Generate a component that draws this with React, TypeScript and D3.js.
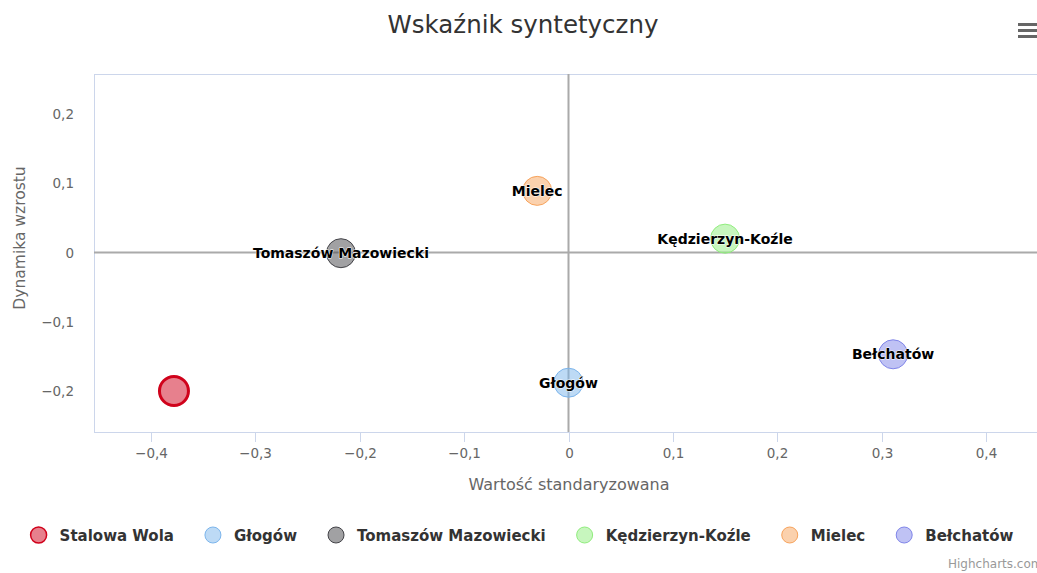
import React, { useEffect, useRef } from "react";
import * as d3 from "d3";

const cities = ["Stalowa Wola", "Głogów", "Tomaszów Mazowiecki", "Kędzierzyn-Koźle", "Mielec", "Bełchatów"];
const xValues = [-0.378, 0.0, -0.218, 0.15, -0.03, 0.311];
const yValues = [-0.2, -0.188, -0.001, 0.02, 0.089, -0.147];
const colors = ["#d0021b", "#7cb5ec", "#434348", "#90ed7d", "#f7a35c", "#8085e9"];
const strokeWidths = [3, 1, 1, 1, 1, 1];
const xTicks = [-0.4, -0.3, -0.2, -0.1, 0, 0.1, 0.2, 0.3, 0.4];
const yTicks = [-0.2, -0.1, 0, 0.1, 0.2];
const titleText = "Wskaźnik syntetyczny";
const xTitle = "Wartość standaryzowana";
const yTitle = "Dynamika wzrostu";

const W = 1037;
const H = 573;
const FONT = "'DejaVu Sans', 'Open Sans', sans-serif";

const locale = d3.formatLocale({ decimal: ",", thousands: " ", grouping: [3], currency: ["", " zł"], minus: "\u2212" });
const fmt = (v: number) => (Math.abs(v) < 1e-9 ? "0" : locale.format(".1f")(v));

export default function App() {
  const ref = useRef<SVGSVGElement | null>(null);

  useEffect(() => {
    const svg = d3.select(ref.current);
    svg.selectAll("*").remove();

    const plotL = 94, plotT = 74, plotB = 432, plotR = 1040;
    const x = d3.scaleLinear().domain([-0.4, 0.4]).range([151, 986]);
    const y = d3.scaleLinear().domain([-0.2, 0.2]).range([391, 114]);

    svg.append("rect").attr("width", W).attr("height", H).attr("fill", "#fff");

    // title
    svg.append("text").attr("x", 523).attr("y", 33).attr("text-anchor", "middle")
      .attr("font-family", FONT).attr("font-size", 24.5).attr("fill", "#333").text(titleText);

    // menu icon
    [0, 1, 2].forEach((i) => {
      svg.append("rect").attr("x", 1018).attr("y", 23 + i * 6).attr("width", 19).attr("height", 3)
        .attr("fill", "#666");
    });

    // plot border
    svg.append("rect").attr("x", plotL + 0.5).attr("y", plotT + 0.5).attr("width", plotR - plotL)
      .attr("height", plotB - plotT).attr("fill", "none").attr("stroke", "#ccd6eb").attr("stroke-width", 1);

    // x ticks
    const xt = svg.append("g");
    xTicks.forEach((t) => {
      const px = Math.round(x(t)) + 0.5;
      xt.append("line").attr("x1", px).attr("x2", px).attr("y1", plotB).attr("y2", plotB + 10)
        .attr("stroke", "#ccd6eb");
      xt.append("text").attr("x", px).attr("y", plotB + 26).attr("text-anchor", "middle")
        .attr("font-family", FONT).attr("font-size", 13.5).attr("fill", "#666").text(fmt(t));
    });
    yTicks.forEach((t) => {
      svg.append("text").attr("x", 74).attr("y", y(t) + 5).attr("text-anchor", "end")
        .attr("font-family", FONT).attr("font-size", 13.5).attr("fill", "#666").text(fmt(t));
    });

    // axis titles
    svg.append("text").attr("x", 569).attr("y", 490).attr("text-anchor", "middle")
      .attr("font-family", FONT).attr("font-size", 16).attr("fill", "#666").text(xTitle);
    svg.append("text").attr("transform", `translate(25,${238}) rotate(-90)`).attr("text-anchor", "middle")
      .attr("font-family", FONT).attr("font-size", 15.5).attr("fill", "#666").text(yTitle);

    // zero plot lines
    svg.append("line").attr("x1", plotL).attr("x2", plotR).attr("y1", y(0)).attr("y2", y(0))
      .attr("stroke", "#aaa").attr("stroke-width", 2);
    svg.append("line").attr("x1", x(0)).attr("x2", x(0)).attr("y1", plotT).attr("y2", plotB)
      .attr("stroke", "#aaa").attr("stroke-width", 2);

    // bubbles
    const data = cities.map((c, i) => ({ name: c, x: xValues[i], y: yValues[i], color: colors[i], sw: strokeWidths[i] }));
    const g = svg.append("g");
    data.forEach((d) => {
      g.append("circle").attr("cx", x(d.x)).attr("cy", y(d.y)).attr("r", 14.5)
        .attr("fill", d.color).attr("fill-opacity", 0.5).attr("stroke", d.color).attr("stroke-width", d.sw);
    });
    data.forEach((d, i) => {
      if (i === 0) return;
      g.append("text").attr("x", x(d.x)).attr("y", y(d.y) + 5).attr("text-anchor", "middle")
        .attr("font-family", FONT).attr("font-size", 14).attr("font-weight", "bold").attr("fill", "#000")
        .attr("stroke", "#fff").attr("stroke-width", 1).attr("paint-order", "stroke").attr("stroke-linejoin", "round")
        .text(d.name);
    });

    // legend
    const lg = svg.append("g");
    const items: { g: any; w: number }[] = [];
    data.forEach((d) => {
      const it = lg.append("g");
      it.append("circle").attr("cx", 8).attr("cy", 0).attr("r", 8)
        .attr("fill", d.color).attr("fill-opacity", 0.5).attr("stroke", d.color).attr("stroke-width", d.sw > 1 ? 1.5 : 1);
      const t = it.append("text").attr("x", 29).attr("y", 6).attr("font-family", FONT).attr("font-size", 15)
        .attr("font-weight", "bold").attr("fill", "#333").text(d.name);
      const tw = (t.node() as SVGTextElement).getComputedTextLength();
      items.push({ g: it, w: 29 + tw });
    });
    const gap = 31;
    const total = items.reduce((s, it) => s + it.w, 0) + gap * (items.length - 1);
    let cx = 522 - total / 2;
    items.forEach((it) => {
      it.g.attr("transform", `translate(${cx},535)`);
      cx += it.w + gap;
    });

    // credits
    svg.append("text").attr("x", 948).attr("y", 568).attr("text-anchor", "start")
      .attr("font-family", FONT).attr("font-size", 12).attr("fill", "#999").text("Highcharts.com");
  }, []);

  return <svg ref={ref} width={W} height={H} style={{ display: "block", position: "absolute", left: 0, top: 0 }} />;
}
